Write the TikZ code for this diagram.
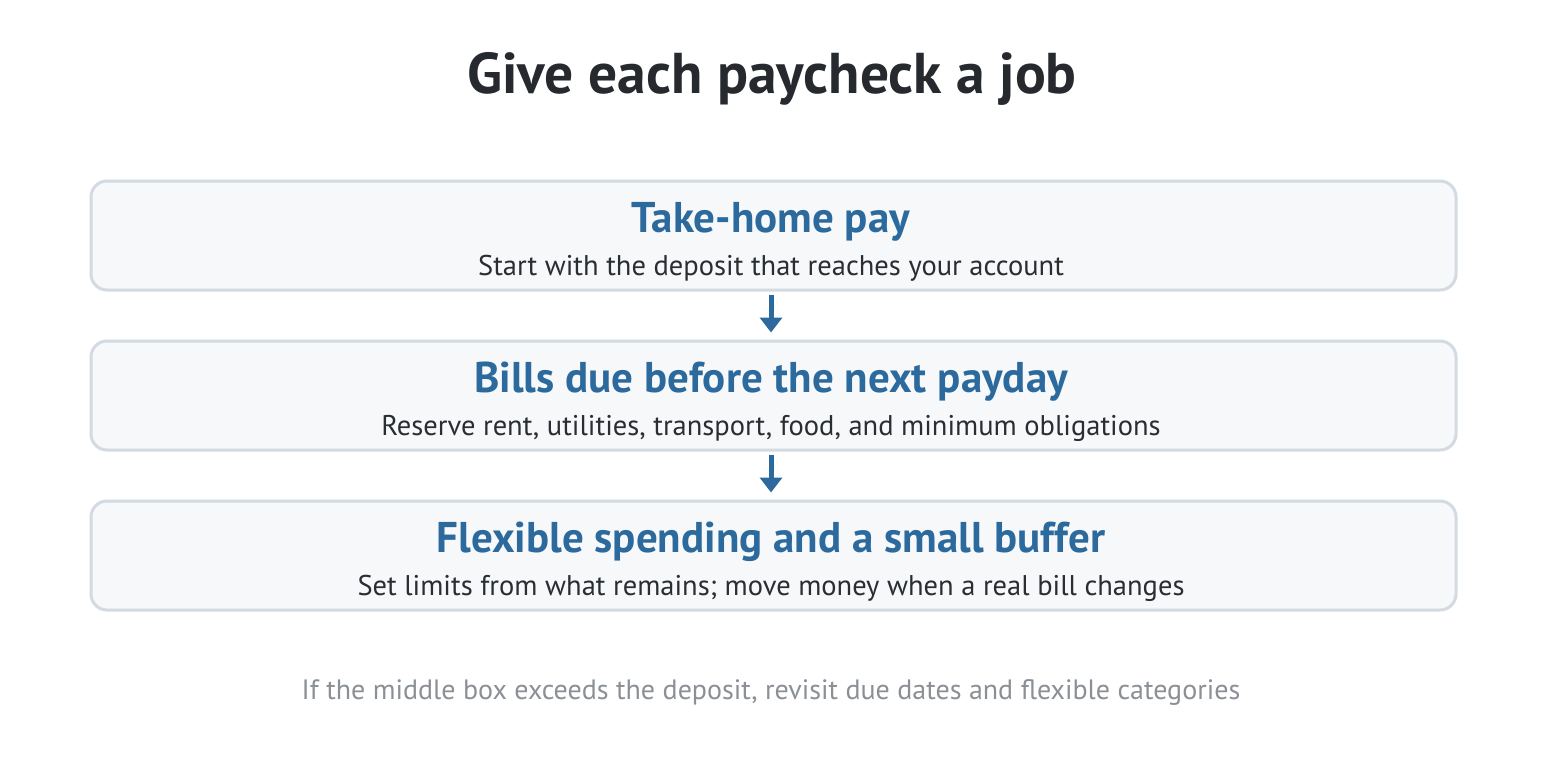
\documentclass[tikz,border=0pt]{standalone}
\usepackage{fontspec}
\setmainfont{PT Sans}
\usetikzlibrary{arrows.meta}
\definecolor{inkdark}{HTML}{26292E}
\definecolor{inkblue}{HTML}{2C6A9D}
\definecolor{inksub}{HTML}{2A2D31}
\definecolor{inkgray}{HTML}{8B9096}
\definecolor{boxline}{HTML}{D3DAE1}
\definecolor{boxfill}{HTML}{F6F8FA}
\tikzset{
  stagebox/.style={draw=boxline, fill=boxfill, line width=3pt, rounded corners=16pt,
    minimum width=1365pt, minimum height=109pt, inner sep=0pt},
  stagehead/.style={font=\fontsize{43}{48}\selectfont\bfseries, text=inkblue, anchor=base},
  stagenote/.style={font=\fontsize{28.5}{32}\selectfont, text=inksub, anchor=base},
  flowarrow/.style={draw=inkblue, line width=5pt, -{Triangle[length=15pt,width=22pt]},
    shorten <=3pt, shorten >=7pt}
}
\begin{document}
\begin{tikzpicture}[x=1pt,y=-1pt]
\useasboundingbox (0,0) rectangle (1546,760);
\node[font=\fontsize{57.5}{64}\selectfont\bfseries, text=inkdark, anchor=base] (title) at (772,93) {Give each paycheck a job};

% the three stages
\node[stagebox] (pay) at (773.5,235.5) {};
\node[stagebox] (bills) at (773.5,395.5) {};
\node[stagebox] (flex) at (773.5,555.5) {};

\node[stagehead] (payhead) at (771,232) {Take-home pay};
\node[stagenote] (paynote) at (771,275) {Start with the deposit that reaches your account};
\node[stagehead] (billshead) at (771,392) {Bills due before the next payday};
\node[stagenote] (billsnote) at (771,435) {Reserve rent, utilities, transport, food, and minimum obligations};
\node[stagehead] (flexhead) at (771,552) {Flexible spending and a small buffer};
\node[stagenote] (flexnote) at (771,595) {Set limits from what remains; move money when a real bill changes};

\draw[flowarrow] (pay.south -| paynote.base) -- (bills.north -| paynote.base);
\draw[flowarrow] (bills.south -| paynote.base) -- (flex.north -| paynote.base);

\node[font=\fontsize{28}{32}\selectfont, text=inkgray, anchor=base] (footer) at (771,699) {If the middle box exceeds the deposit, revisit due dates and flexible categories};
\end{tikzpicture}
\end{document}
